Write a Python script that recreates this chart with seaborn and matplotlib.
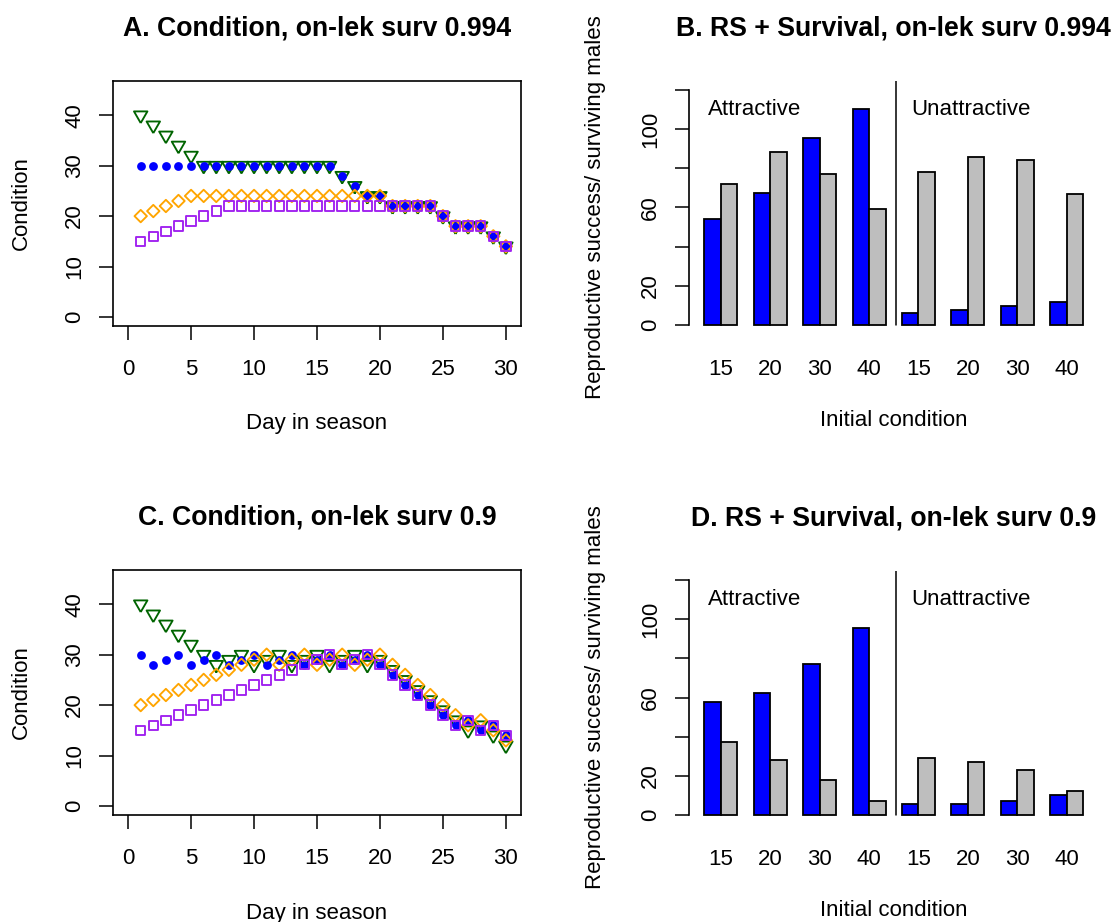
import matplotlib
matplotlib.use("Agg")
import matplotlib.pyplot as plt
import numpy as np
import pandas as pd
import seaborn as sns

# ---------------- data ----------------
days = list(range(1, 31))

# Panel A: condition trajectories, on-lek survival 0.994
condA_40 = [40, 38, 36, 34, 32, 30, 30, 30, 30, 30, 30, 30, 30, 30, 30, 30,
            28, 26, 24, 24, 22, 22, 22, 22, 20, 18, 18, 18, 16, 14]
condA_30 = [30, 30, 30, 30, 30, 30, 30, 30, 30, 30, 30, 30, 30, 30, 30, 30,
            28, 26, 24, 24, 22, 22, 22, 22, 20, 18, 18, 18, 16, 14]
condA_20 = [20, 21, 22, 23, 24, 24, 24, 24, 24, 24, 24, 24, 24, 24, 24, 24,
            24, 24, 24, 24, 22, 22, 22, 22, 20, 18, 18, 18, 16, 14]
condA_15 = [15, 16, 17, 18, 19, 20, 21, 22, 22, 22, 22, 22, 22, 22, 22, 22,
            22, 22, 22, 22, 22, 22, 22, 22, 20, 18, 18, 18, 16, 14]

# Panel C: condition trajectories, on-lek survival 0.9
condC_40 = [40, 38, 36, 34, 32, 30, 28, 29, 30, 28, 29, 30, 28, 29, 30, 28,
            29, 30, 28, 29, 27, 25, 23, 21, 19, 17, 15, 16, 14, 12]
condC_30 = [30, 28, 29, 30, 28, 29, 30, 28, 29, 30, 28, 29, 30, 28, 29, 30,
            28, 29, 30, 28, 26, 24, 22, 20, 18, 16, 17, 15, 16, 14]
condC_20 = [20, 21, 22, 23, 24, 25, 26, 27, 28, 29, 30, 28, 29, 30, 28, 29,
            30, 28, 29, 30, 28, 26, 24, 22, 20, 18, 16, 17, 15, 13]
condC_15 = [15, 16, 17, 18, 19, 20, 21, 22, 23, 24, 25, 26, 27, 28, 29, 30,
            28, 29, 30, 28, 26, 24, 22, 20, 18, 16, 17, 15, 16, 14]

# Panels B / D: bars
bar_cats = ["A15", "A20", "A30", "A40", "U15", "U20", "U30", "U40"]
bar_tick_labels = ["15", "20", "30", "40", "15", "20", "30", "40"]
rs_B = [54.0, 67.5, 95.7, 110.3, 6.3, 7.5, 9.5, 11.6]
surv_B = [72.0, 88.2, 76.9, 59.1, 78.1, 86.0, 84.1, 67.1]
rs_D = [57.7, 62.3, 77.1, 95.7, 5.6, 5.4, 7.0, 10.2]
surv_D = [37.1, 28.1, 18.0, 7.3, 29.1, 27.1, 23.1, 12.3]

# ---------------- style ----------------
sns.set_theme(style="ticks")
plt.rcParams["font.family"] = ["Liberation Sans", "DejaVu Sans"]
plt.rcParams["axes.edgecolor"] = "black"
plt.rcParams["xtick.color"] = "black"
plt.rcParams["ytick.color"] = "black"
plt.rcParams["text.color"] = "black"
plt.rcParams["axes.labelcolor"] = "black"

GREEN = "#006400"
BLUE = "#0000FF"
ORANGE = "#FFA500"
PURPLE = "#A020F0"
GREY = "#BEBEBE"

TRI_DOWN = [(0.0, -1.0), (-0.866, 0.5), (0.866, 0.5), (0.0, -1.0)]

W, H = 1116, 922
fig = plt.figure(figsize=(W / 100, H / 100), dpi=100)


def px_axes(left, top, right, bottom):
    return fig.add_axes([left / W, 1 - bottom / H, (right - left) / W, (bottom - top) / H])


LW = 1.35
TICK_FS = 16
TITLE_FS = 19.2


def condition_panel(ax, c40, c30, c20, c15, title):
    sns.scatterplot(x=days, y=c40, ax=ax, marker=TRI_DOWN, s=125,
                    facecolor="none", edgecolor=GREEN, linewidth=LW, legend=False)
    sns.scatterplot(x=days, y=c30, ax=ax, marker="o", s=40,
                    color=BLUE, linewidth=0, legend=False)
    sns.scatterplot(x=days, y=c20, ax=ax, marker="D", s=40,
                    facecolor="none", edgecolor=ORANGE, linewidth=LW, legend=False)
    sns.scatterplot(x=days, y=c15, ax=ax, marker="s", s=46,
                    facecolor="none", edgecolor=PURPLE, linewidth=LW, legend=False)
    ax.set_xlim(-1.2, 31.2)
    ax.set_ylim(-1.8, 46.8)
    ax.set_xticks([0, 5, 10, 15, 20, 25, 30])
    ax.set_yticks([0, 10, 20, 30, 40])
    for sp in ax.spines.values():
        sp.set_visible(True)
        sp.set_linewidth(1.2)
        sp.set_color("black")
    ax.tick_params(axis="x", length=10, width=1.1, labelsize=TICK_FS, pad=14)
    ax.tick_params(axis="y", length=10, width=1.1, labelsize=TICK_FS, pad=10)
    plt.setp(ax.get_yticklabels(), rotation=90, va="center")
    ax.set_xlabel("Day in season", fontsize=TICK_FS)
    ax.set_ylabel("Condition", fontsize=TICK_FS)
    ax.xaxis.set_label_coords(0.5, -0.40)
    ax.xaxis.label.set_verticalalignment("center")
    ax.yaxis.set_label_coords(-0.2255, 0.5)
    ax.yaxis.label.set_verticalalignment("center")
    ax.set_title(title, fontsize=TITLE_FS, fontweight="bold", y=1.216, va="center", pad=0)


def bar_panel(ax, rs, surv, title):
    df = pd.DataFrame({
        "cat": bar_cats + bar_cats,
        "series": ["RS"] * len(bar_cats) + ["Surv"] * len(bar_cats),
        "value": rs + surv,
    })
    sns.barplot(data=df, x="cat", y="value", hue="series", order=bar_cats,
                hue_order=["RS", "Surv"], palette={"RS": BLUE, "Surv": GREY},
                width=2 / 3, edgecolor="black", linewidth=1.3, saturation=1,
                errorbar=None, legend=False, ax=ax)
    ax.set_xlim(-0.64, 7.64)
    ax.set_ylim(-4.8, 124.8)
    ax.set_yticks([0, 20, 40, 60, 80, 100, 120])
    ax.set_yticklabels(["0", "20", "", "60", "", "100", ""])
    ax.set_xticks(range(len(bar_cats)))
    ax.set_xticklabels(bar_tick_labels)
    for name in ["top", "right", "bottom"]:
        ax.spines[name].set_visible(False)
    ax.spines["left"].set_bounds(0, 120)
    ax.spines["left"].set_linewidth(1.2)
    ax.tick_params(axis="x", length=0, labelsize=TICK_FS, pad=18)
    ax.tick_params(axis="y", length=10, width=1.1, labelsize=TICK_FS, pad=10)
    plt.setp(ax.get_yticklabels(), rotation=90, va="center")
    ax.axvline(3.55, ymin=4.8 / 129.6, ymax=1.0, color="black", linewidth=1.1)
    ax.text(-0.257, 110, "Attractive", fontsize=TICK_FS, ha="left", va="center")
    ax.text(3.853, 110, "Unattractive", fontsize=TICK_FS, ha="left", va="center")
    ax.set_xlabel("Initial condition", fontsize=TICK_FS)
    ax.set_ylabel("Reproductive success/ surviving males", fontsize=TICK_FS)
    ax.xaxis.set_label_coords(0.5, -0.341)
    ax.xaxis.label.set_verticalalignment("center")
    ax.yaxis.set_label_coords(-0.2283, 0.5)
    ax.yaxis.label.set_verticalalignment("center")
    ax.set_title(title, fontsize=TITLE_FS, fontweight="bold", y=1.207, va="center", pad=0)


axA = px_axes(113, 81, 521, 326)
axB = px_axes(689, 80.6, 1098.5, 334.4)
axC = px_axes(113, 570, 521, 815)
axD = px_axes(689, 570.6, 1098.5, 824.4)

condition_panel(axA, condA_40, condA_30, condA_20, condA_15,
                "A. Condition, on-lek surv 0.994")
condition_panel(axC, condC_40, condC_30, condC_20, condC_15,
                "C. Condition, on-lek surv 0.9")
bar_panel(axB, rs_B, surv_B, "B. RS + Survival, on-lek surv 0.994")
bar_panel(axD, rs_D, surv_D, "D. RS + Survival, on-lek surv 0.9")

fig.savefig("out.png", dpi=100, facecolor="white")
